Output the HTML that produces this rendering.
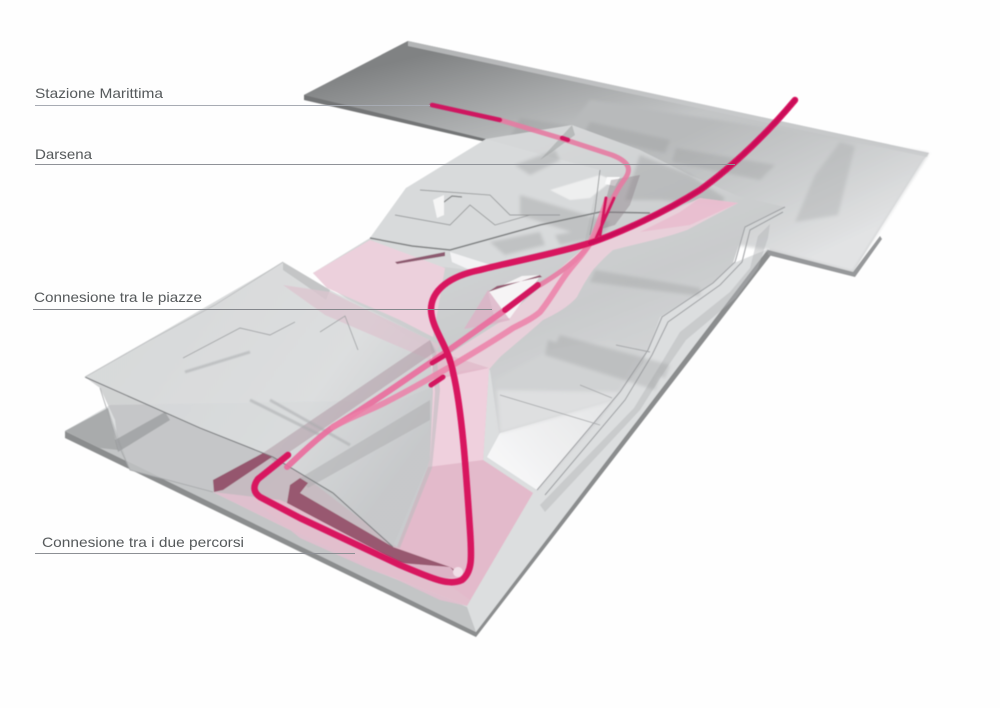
<!DOCTYPE html>
<html>
<head>
<meta charset="utf-8">
<style>
html,body{margin:0;padding:0;background:#fefefe;width:1000px;height:708px;overflow:hidden}
svg{display:block}
text{font-family:"Liberation Sans",sans-serif;font-size:14px;fill:#55595b}
</style>
</head>
<body>
<svg width="1000" height="708" viewBox="0 0 1000 708" xmlns="http://www.w3.org/2000/svg">
<defs>
<linearGradient id="top" gradientUnits="userSpaceOnUse" x1="440" y1="50" x2="470" y2="170">
<stop offset="0" stop-color="#808283"/><stop offset=".5" stop-color="#a3a5a6"/><stop offset="1" stop-color="#c3c5c6"/>
</linearGradient>
<linearGradient id="topR" gradientUnits="userSpaceOnUse" x1="720" y1="120" x2="790" y2="270">
<stop offset="0" stop-color="#b8babb"/><stop offset=".6" stop-color="#cfd1d2"/><stop offset="1" stop-color="#e2e3e4"/>
</linearGradient>
<linearGradient id="body" gradientUnits="userSpaceOnUse" x1="480" y1="170" x2="600" y2="470">
<stop offset="0" stop-color="#d5d7d8"/><stop offset=".5" stop-color="#c9cbcc"/><stop offset="1" stop-color="#dcdddf"/>
</linearGradient>
<linearGradient id="block" gradientUnits="userSpaceOnUse" x1="150" y1="330" x2="380" y2="500">
<stop offset="0" stop-color="#d4d6d7"/><stop offset=".6" stop-color="#d9dbdc"/><stop offset="1" stop-color="#c4c6c8"/>
</linearGradient>
<linearGradient id="wht" gradientUnits="userSpaceOnUse" x1="600" y1="390" x2="500" y2="480">
<stop offset="0" stop-color="#e4e5e6"/><stop offset="1" stop-color="#f8f8f9"/>
</linearGradient>
<filter id="b1" x="-5%" y="-5%" width="110%" height="110%"><feGaussianBlur stdDeviation=".6"/></filter>
<filter id="b2" x="-5%" y="-5%" width="110%" height="110%"><feGaussianBlur stdDeviation="1.6"/></filter>
</defs>
<rect width="1000" height="708" fill="#fefefe"/>

<g filter="url(#b1)">
<!-- base plate -->
<polygon points="65,431 65,438 476,637 771,255 768,249 476,630" fill="#8b8d8e"/>
<polygon points="65,431 110,405 400,400 768,249 476,632" fill="#dcdedf"/>
<polygon points="65,431 108,408 130,470 213,492 367,568 467,607 476,632" fill="#c3c5c6"/>
<polygon points="65,431 108,408 118,450 100,448" fill="#a9abac"/>

<!-- T plate -->
<polygon points="304,95 304,100 486,142 490,136 408,41" fill="#737576"/>
<polygon points="408,41 929,153 923,160 853,272 855,276 768,252 770,248 486,139 304,95" fill="url(#top)"/>
<polygon points="590,100 929,153 853,272 768,250 640,230 540,170" fill="url(#topR)" filter="url(#b2)"/>
<polygon points="408,41 929,153 927,157 408,46" fill="#c9cbcc" opacity=".7"/>
<polygon points="768,250 853,272 880,236 882,239 855,277 768,255" fill="#96989a"/>
<polygon points="840,142 855,146 838,215 795,222 815,175" fill="#a9abac" opacity=".38" filter="url(#b2)"/>
<g fill="#8f9192" opacity=".26" filter="url(#b2)">
<polygon points="590,122 670,140 665,153 583,135"/>
<polygon points="676,148 775,165 760,180 672,162"/>
<polygon points="520,118 570,126 552,150 510,138"/>
</g>

<!-- central body -->
<polygon points="486,139 572,125 640,150 690,175 738,196 785,207 745,227 733,263 713,283 660,317 643,363 600,420 537,492 500,440 490,370 430,350 325,285 313,273 370,238 406,188 440,172" fill="url(#body)"/>
<polygon points="406,188 486,139 525,150 600,170 585,240 470,270 400,262 370,238" fill="#d8dadb"/>
<polygon points="540,160 572,125 575,135 552,152" fill="#a4a6a7" opacity=".6"/>
<polygon points="500,430 537,490 613,400 640,350 610,340 550,350 495,380" fill="#d0d2d3" filter="url(#b2)"/>
<polygon points="500,433 613,400 620,392 537,490 487,457" fill="url(#wht)"/>
<polygon points="497,390 620,392 612,402 500,433" fill="#dedfe0" filter="url(#b2)"/>

<!-- right contour lines -->
<g fill="none" stroke="#9c9ea1" stroke-width="1">
<path d="M785,207 L745,227 L735,262 L713,283 L662,317 L648,350 L620,392 L537,490"/>
<path d="M783,212 L750,230 L742,262 L720,285 L668,322 L652,355 L625,400 L545,495"/>
</g>
<polygon points="770,224 758,236 750,268 730,292 680,332 662,362 634,408 540,505 545,512 640,410 668,366 686,340 736,298 758,268 768,238" fill="#b2b4b6" opacity=".45"/>

<!-- top details -->
<g fill="none" stroke="#9a9c9d" stroke-width=".9">
<path d="M440,205 L452,196 L462,197" stroke-width="1.2" stroke="#808283"/>
<path d="M395,215 L450,225 L470,205 L495,225 L530,215"/>
<path d="M420,190 L490,195 L510,215 L560,215"/>
</g>
<g fill="#8f9192" opacity=".32" filter="url(#b2)">
<polygon points="515,165 555,150 560,160 530,175"/>
<polygon points="520,195 610,222 595,240 520,215"/>
<polygon points="540,232 490,242 505,255 545,245"/>
<polygon points="555,235 610,225 600,238 560,245"/>
<polygon points="640,155 690,175 725,198 720,205 660,200 625,200"/>
</g>
<polygon points="550,190 600,175 613,180 590,198 570,200" fill="#eeefef" filter="url(#b1)"/>
<polygon points="607,177 620,177 615,186 605,184" fill="#fbfbfb"/>
<polygon points="433,200 444,195 444,215 437,218" fill="#f6f6f6"/>
<path d="M370,238 L412,246 L450,250 L540,225 L600,212 L650,213" fill="none" stroke="#7d7f80" stroke-width="1.5"/>
<path d="M600,170 L595,210 L590,235" fill="none" stroke="#909294" stroke-width=".9"/>
<polygon points="611,180 640,175 630,205 615,225 598,230" fill="#8a7f86" opacity=".42"/>
<polygon points="450,252 500,268 470,270 452,262" fill="#f3f3f4"/>

<!-- upper plaza -->
<polygon points="370,240 445,268 433,337 400,320 327,288 313,273" fill="#ecd0dc"/>
<polygon points="395,262 445,252 445,256 397,264" fill="#8d5a70"/>

<!-- right ribbon pale -->
<path d="M738,203 L700,198 C670,212 625,232 590,243 C565,262 530,298 500,322 L432,365 L430,385 L470,395 C480,380 490,368 500,357 C520,340 532,330 543,320 C560,312 570,305 577,297 C583,285 588,277 593,270 C600,262 606,256 613,250 C640,243 665,238 687,230 Z" fill="#edd0dc" opacity=".85"/>
<polygon points="700,198 738,203 690,225 640,232 680,212" fill="#e8b8cc" opacity=".7"/>

<!-- central void -->
<polygon points="488,292 522,276 541,275 510,318 495,320" fill="#f6f4f5"/>
<polygon points="488,292 540,275 542,277 497,286" fill="#93566f"/>
<polygon points="464,329 488,290 510,320 490,325" fill="#dcb2c5" opacity=".8"/>

<!-- bottom pink plaza and strip -->
<polygon points="433,350 489,368 483,460 533,493 467,606 367,568 213,492 263,453 290,465 397,547 428,467" fill="#e2bfcd"/>
<polygon points="397,547 428,467 433,385 452,372 487,368 483,460 533,493 470,600" fill="#e3bacb"/>
<polygon points="433,380 489,368 483,460 428,467" fill="#efd0dd"/>
<polygon points="213,492 263,453 275,458 290,466 253,500 300,538 367,568 467,606 440,600 330,548 213,492" fill="#dfc0ce"/>

<!-- big left block (glass) -->
<polygon points="85,377 283,262 330,290 430,340 433,392 430,460 393,547 333,493 273,457 200,428" fill="url(#block)" opacity=".9"/>
<polygon points="85,377 100,388 115,420 118,444 130,470 213,492 280,500 393,547 333,493 273,457 200,428" fill="#b6b8ba" opacity=".62"/>
<polygon points="283,262 330,290 326,300 305,285 283,270" fill="#babcbe" opacity=".7"/>
<polygon points="283,285 330,292 440,345 430,360 325,315" fill="#dcc4cf" opacity=".75"/>
<polygon points="115,440 165,412 170,420 118,452" fill="#86888a" opacity=".5"/>
<polygon points="430,340 435,392 430,460 393,547 400,548 432,468 440,390 436,350" fill="#b9bbbd" opacity=".55"/>
<polygon points="263,453 430,340 435,352 275,462" fill="#b09aa6" opacity=".55"/>
<polygon points="300,478 430,400 430,420 340,470 308,488" fill="#aeafb1" opacity=".55"/>
<g fill="none" stroke="#a2a4a6" stroke-width=".9">
<path d="M183,358 L240,328 L270,335 L295,322"/>
<path d="M320,332 L345,316 L358,350"/>
</g>
<g fill="none" stroke="#a9abad" stroke-width="3" opacity=".55" filter="url(#b1)">
<path d="M185,372 L250,352"/>
<path d="M250,400 L320,435"/>
<path d="M270,400 L350,445"/>
</g>
<path d="M85,377 L200,428 L273,457 L333,493 L393,547" fill="none" stroke="#7c7e80" stroke-width="1.1"/>
<path d="M85,377 L150,340 L215,305 L283,262" fill="none" stroke="#bfc1c2" stroke-width="1"/>
<path d="M100,388 L118,444 L130,470 L213,492" fill="none" stroke="#a4a6a8" stroke-width=".8"/>

<!-- maroon faces -->
<polygon points="213,480 263,453 272,457 223,490 214,492" fill="#95566e"/>
<polygon points="287,503 290,485 300,478 308,483 300,493 393,547 450,567 460,573 400,563" fill="#98596f"/>
<polygon points="400,563 450,567 458,576 438,579" fill="#dcb4c6"/>
<circle cx="458" cy="572" r="5" fill="#f1dfe7"/>

<!-- bars on roof -->
<g fill="#8f9192" opacity=".28" filter="url(#b2)">
<polygon points="595,270 700,288 700,296 590,282"/>
<polygon points="560,335 670,365 665,378 555,345"/>
<polygon points="548,340 660,375 655,390 545,355"/>
</g>
<path d="M616,345 L650,352 M500,395 L600,425 M580,385 L612,398" fill="none" stroke="#a4a6a8" stroke-width=".9"/>
</g>

<!-- tubes -->
<g fill="none" stroke-linecap="round" stroke-linejoin="round" filter="url(#b1)">
<path d="M500,120 L560,138 L612,155 C630,162 632,170 624,180 C615,192 606,212 597,233 C588,248 578,262 540,285" stroke="#e67ba2" stroke-width="5" opacity=".9"/>
<path d="M287,467 C305,450 318,438 333,427 C370,405 400,383 430,363 C455,346 480,328 505,310" stroke="#ea6c9c" stroke-width="6" opacity=".9"/>
<path d="M333,427 C352,416 372,410 390,400 C410,390 430,378 448,368 C470,355 492,342 513,328 C525,322 533,318 540,312 C550,300 558,285 567,273 C575,262 583,255 590,243 C597,230 602,215 607,200" stroke="#ec80a8" stroke-width="6" opacity=".85"/>
<path d="M505,310 L538,285" stroke="#d3135f" stroke-width="6"/>
<path d="M432,363 L447,354" stroke="#d3135f" stroke-width="5"/>
<path d="M431,385 L443,377" stroke="#d3135f" stroke-width="5"/>
<path d="M606,198 L600,235 M614,198 L596,238" stroke="#d3135f" stroke-width="3"/>
<path d="M432,105 L500,120" stroke="#cf1560" stroke-width="4.5"/>
<path d="M562,138 L568,140" stroke="#d01560" stroke-width="4.5"/>
<path d="M795,100 C770,130 735,165 700,190 C665,212 620,233 590,243 C550,255 510,262 480,270 C450,276 431,290 431,310 C432,330 448,345 453,372 C462,410 466,470 470,530 C472,560 472,572 462,580 C450,586 435,580 400,565 L300,518 L260,497 Q250,490 258,479 L288,455" stroke="#d8125f" stroke-width="6.5"/>
<path d="M795,100 C770,130 735,165 700,190 C665,212 620,233 590,243" stroke="#c91158" stroke-width="3.5"/>
</g>

<!-- leader lines -->
<g fill="none" stroke-width="1">
<line x1="35" y1="105.5" x2="430" y2="105.5" stroke="#a7abb3"/>
<line x1="35" y1="164.5" x2="735" y2="164.5" stroke="#8f9298"/>
<line x1="33" y1="309.5" x2="492" y2="309.5" stroke="#84878c"/>
<line x1="35" y1="553.5" x2="355" y2="553.5" stroke="#8c8f94"/>
</g>
<text x="35" y="98" textLength="128" lengthAdjust="spacingAndGlyphs">Stazione Marittima</text>
<text x="35" y="159" textLength="57" lengthAdjust="spacingAndGlyphs">Darsena</text>
<text x="34" y="302" textLength="168" lengthAdjust="spacingAndGlyphs">Connesione tra le piazze</text>
<text x="42" y="547" textLength="202" lengthAdjust="spacingAndGlyphs">Connesione tra i due percorsi</text>
</svg>
</body>
</html>
